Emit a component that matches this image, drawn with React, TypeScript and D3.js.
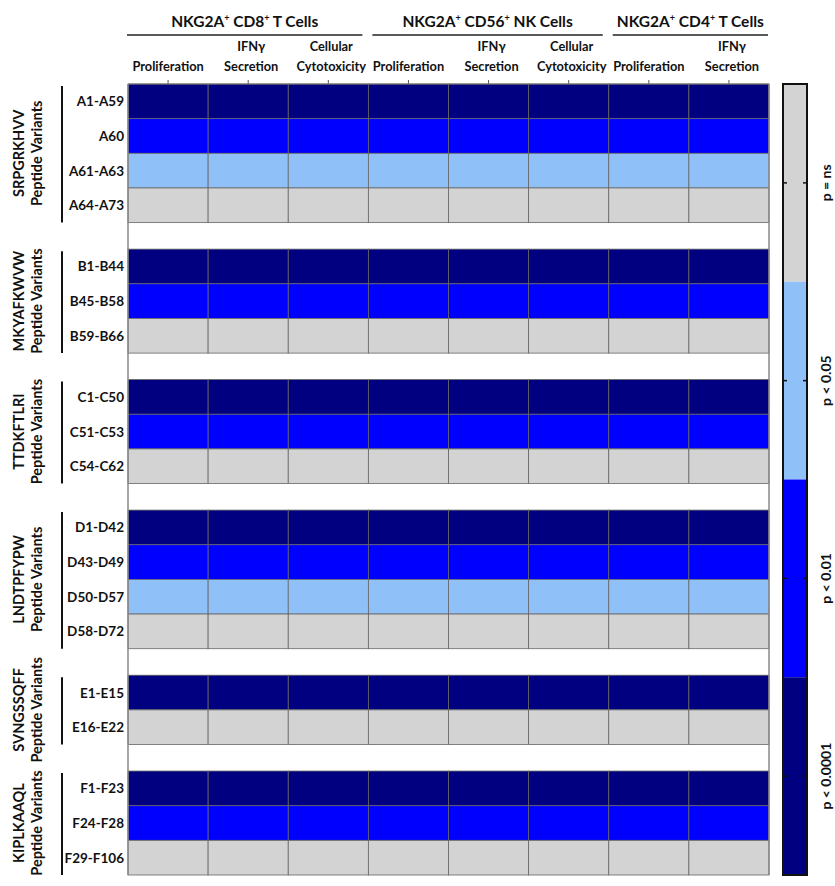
import React from 'react';
import * as d3 from 'd3';

// significance levels: 0 = ns, 1 = p<0.05, 2 = p<0.01, 3 = p<0.0001
const levelLabels = ['p = ns', 'p < 0.05', 'p < 0.01', 'p < 0.0001'];
const levelColors = ['#d3d3d3', '#90c0f8', '#0000ff', '#000080'];

const cellGroups = ['CD8', 'CD56', 'CD4'];
const columns = [
  ['Proliferation'], ['IFNγ', 'Secretion'], ['Cellular', 'Cytotoxicity'],
  ['Proliferation'], ['IFNγ', 'Secretion'], ['Cellular', 'Cytotoxicity'],
  ['Proliferation'], ['IFNγ', 'Secretion'],
];
const columnGroup = [0, 0, 0, 1, 1, 1, 2, 2];

const peptides = ['SRPGRKHVV', 'MKYAFKWVW', 'TTDKFTLRI', 'LNDTPFYPW', 'SVNGSSQFF', 'KIPLKAAQL'];
const rowLabels = [
  ['A1-A59', 'A60', 'A61-A63', 'A64-A73'],
  ['B1-B44', 'B45-B58', 'B59-B66'],
  ['C1-C50', 'C51-C53', 'C54-C62'],
  ['D1-D42', 'D43-D49', 'D50-D57', 'D58-D72'],
  ['E1-E15', 'E16-E22'],
  ['F1-F23', 'F24-F28', 'F29-F106'],
];
const rowValues = [
  [[3, 3, 3, 3, 3, 3, 3, 3], [2, 2, 2, 2, 2, 2, 2, 2], [1, 1, 1, 1, 1, 1, 1, 1], [0, 0, 0, 0, 0, 0, 0, 0]],
  [[3, 3, 3, 3, 3, 3, 3, 3], [2, 2, 2, 2, 2, 2, 2, 2], [0, 0, 0, 0, 0, 0, 0, 0]],
  [[3, 3, 3, 3, 3, 3, 3, 3], [2, 2, 2, 2, 2, 2, 2, 2], [0, 0, 0, 0, 0, 0, 0, 0]],
  [[3, 3, 3, 3, 3, 3, 3, 3], [2, 2, 2, 2, 2, 2, 2, 2], [1, 1, 1, 1, 1, 1, 1, 1], [0, 0, 0, 0, 0, 0, 0, 0]],
  [[3, 3, 3, 3, 3, 3, 3, 3], [0, 0, 0, 0, 0, 0, 0, 0]],
  [[3, 3, 3, 3, 3, 3, 3, 3], [2, 2, 2, 2, 2, 2, 2, 2], [0, 0, 0, 0, 0, 0, 0, 0]],
];

const W = 835, H = 886;
const left = 128, right = 769, top = 84, bottom = 875;
const gapUnits = 0.765;
const font = 'Lato, "Open Sans", sans-serif';

export default function App() {
  const x = d3.scaleBand<number>().domain(d3.range(columns.length)).range([left, right]);

  // vertical layout in "row units", white gaps between peptide groups
  const starts: number[] = [];
  let u = 0;
  rowLabels.forEach((g, gi) => {
    starts.push(u);
    u += g.length + (gi < rowLabels.length - 1 ? gapUnits : 0);
  });
  const y = d3.scaleLinear().domain([0, u]).range([top, bottom]);

  const legendY = d3.scaleBand<number>().domain([0, 1, 2, 3]).range([top, bottom]);
  const lx0 = 783, lx1 = 807;

  const groupSpan = cellGroups.map((_, gi) => {
    const cols = columnGroup.map((g, i) => (g === gi ? i : -1)).filter(i => i >= 0);
    return [x(cols[0])!, x(cols[cols.length - 1])! + x.bandwidth()];
  });

  return (
    <svg width={W} height={H} style={{ position: 'absolute', left: 0, top: 0, fontFamily: font, fontWeight: 700 }}>
      <rect width={W} height={H} fill="#fff" />

      {/* group headers */}
      {groupSpan.map(([a, b], gi) => {
        const labs = [
          ['CD8', ' T Cells'],
          ['CD56', ' NK Cells'],
          ['CD4', ' T Cells'],
        ][gi];
        const a2 = gi === 0 ? a - 1 : a + 4;
        const b2 = gi === 2 ? b - 1 : b - 6;
        return (
          <g key={gi}>
            <text x={(a2 + b2) / 2} y={27} textAnchor="middle" fontSize={15.5} fill="#111">
              NKG2A<tspan fontSize={9} dy={-6}>+</tspan>
              <tspan dy={6}> {labs[0]}</tspan>
              <tspan fontSize={9} dy={-6}>+</tspan>
              <tspan dy={6}>{labs[1]}</tspan>
            </text>
            <line x1={a2} x2={b2} y1={35} y2={35} stroke="#222" strokeWidth={1.6} />
          </g>
        );
      })}

      {/* column labels */}
      {columns.map((lines, i) => (
        <text key={i} x={x(i)! + x.bandwidth() / 2 + (lines.length > 1 ? 3 : 0)} textAnchor="middle" fontSize={12.8} fill="#111">
          {lines.map((l, k) => (
            <tspan key={k} x={x(i)! + x.bandwidth() / 2 + (lines.length > 1 ? 3 : 0)} y={71 - (lines.length - 1 - k) * 20}>{l}</tspan>
          ))}
        </text>
      ))}

      {/* top ticks */}
      {columns.map((_, i) => (
        <line key={i} x1={x(i)! + x.bandwidth() / 2} x2={x(i)! + x.bandwidth() / 2} y1={top - 4} y2={top} stroke="#555" />
      ))}

      {/* cells */}
      {rowValues.map((g, gi) => g.map((vals, ri) => vals.map((v, ci) => (
        <rect key={`${gi}-${ri}-${ci}`} x={x(ci)} y={y(starts[gi] + ri)} width={x.bandwidth()}
          height={y(starts[gi] + ri + 1) - y(starts[gi] + ri)} fill={levelColors[v]} stroke="#666" strokeWidth={0.8} />
      ))))}
      <line x1={left} x2={left} y1={top} y2={bottom} stroke="#888" strokeWidth={1.5} />
      <line x1={right} x2={right} y1={top} y2={bottom} stroke="#888" strokeWidth={1.5} />
      <line x1={left} x2={right} y1={top} y2={top} stroke="#777" strokeWidth={1.2} />

      {/* row labels and peptide groups */}
      {rowLabels.map((g, gi) => {
        const y0 = y(starts[gi]), y1 = y(starts[gi] + g.length);
        const cy = (y0 + y1) / 2;
        return (
          <g key={gi}>
            {g.map((l, ri) => (
              <text key={ri} x={124} y={(y(starts[gi] + ri) + y(starts[gi] + ri + 1)) / 2 + 5} textAnchor="end" fontSize={13.5} fill="#111">{l}</text>
            ))}
            <line x1={62} x2={62} y1={y0 + 2} y2={y1} stroke="#111" strokeWidth={2} />
            <text transform={`translate(24,${cy}) rotate(-90)`} textAnchor="middle" fontSize={14.5} fill="#111">{peptides[gi]}</text>
            <text transform={`translate(42,${cy}) rotate(-90)`} textAnchor="middle" fontSize={14.5} fill="#111">Peptide Variants</text>
          </g>
        );
      })}

      {/* legend */}
      {levelLabels.map((l, i) => {
        const yy = legendY(i)!;
        const cy = yy + legendY.bandwidth() / 2;
        return (
          <g key={i}>
            <rect x={lx0} y={yy} width={lx1 - lx0} height={legendY.bandwidth()} fill={levelColors[i]} />
            <line x1={lx0} x2={lx0 + 4} y1={cy} y2={cy} stroke="#111" strokeWidth={1.5} />
            <line x1={lx1 - 4} x2={lx1} y1={cy} y2={cy} stroke="#111" strokeWidth={1.5} />
            <text transform={`translate(831,${cy}) rotate(-90)`} textAnchor="middle" fontSize={14} fill="#111">{l}</text>
          </g>
        );
      })}
      <rect x={lx0} y={top} width={lx1 - lx0} height={bottom - top} fill="none" stroke="#111" strokeWidth={2} />
    </svg>
  );
}
